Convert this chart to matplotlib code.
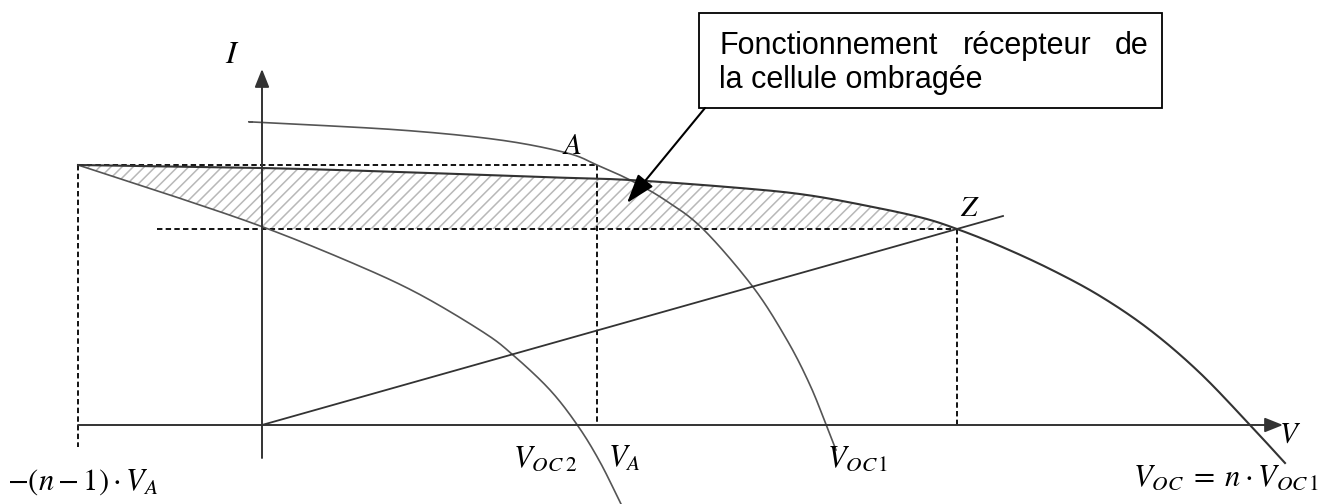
import matplotlib.pyplot as plt
import numpy as np

plt.rcParams['mathtext.fontset'] = 'stix'
plt.rcParams['font.family'] = ['Liberation Sans', 'DejaVu Sans']
plt.rcParams['hatch.linewidth'] = 1.1

# I(V) of the unshaded cell
cell_v = [-0.10, 0.00, 1.38, 2.38, 3.05, 3.35, 3.68, 4.03, 4.41, 4.91, 5.25, 5.48, 5.65, 5.74]
cell_i = [3.03, 3.025, 2.95, 2.85, 2.72, 2.60, 2.45, 2.25, 1.96, 1.38, 0.85, 0.40, -0.02, -0.25]

# shaded cell, reversed (receiver operation)
shaded_v = [-1.84, -0.92, 0.01, 0.88, 1.55, 2.21, 2.51, 2.88, 3.16, 3.38, 3.59]
shaded_i = [2.60, 2.30, 1.98, 1.63, 1.32, 0.93, 0.70, 0.35, -0.01, -0.37, -0.79]

# whole string of n cells
string_v = [-1.84, 0.00, 1.38, 2.78, 3.68, 4.78, 5.45, 6.11, 6.61, 6.95,
            7.38, 7.88, 8.38, 8.88, 9.38, 9.88, 10.23]
string_i = [2.60, 2.57, 2.53, 2.48, 2.45, 2.37, 2.30, 2.18, 2.07, 1.96,
            1.79, 1.56, 1.29, 0.95, 0.52, 0.00, -0.38]

# load line through the origin
load_v = [0.0, 7.41]
load_i = [0.0, 2.09]

v_a, i_a = 3.35, 2.60
v_z, i_z = 6.95, 1.96
v_neg = -1.84


def smooth(xs, ys, n=24):
    # Catmull-Rom through the given points
    p = np.column_stack([xs, ys]).astype(float)
    p = np.vstack([2 * p[0] - p[1], p, 2 * p[-1] - p[-2]])
    t = np.linspace(0, 1, n, endpoint=False)[:, None]
    out = []
    for k in range(1, len(p) - 2):
        p0, p1, p2, p3 = p[k - 1], p[k], p[k + 1], p[k + 2]
        out.append(0.5 * (2 * p1 + (p2 - p0) * t
                          + (2 * p0 - 5 * p1 + 4 * p2 - p3) * t ** 2
                          + (3 * p1 - p0 - 3 * p2 + p3) * t ** 3))
    out.append(p[-2][None])
    out = np.vstack(out)
    return out[:, 0], out[:, 1]


fig = plt.figure(figsize=(13.21, 5.04), dpi=100)
ax = fig.add_axes([0, 0, 1, 1])
ax.set_xlim(-2.62, 10.59)
ax.set_ylim(-0.79, 4.25)
ax.axis('off')

cv, ci = smooth(cell_v, cell_i)
sv, si = smooth(shaded_v, shaded_i)
tv, ti = smooth(string_v, string_i)

# hatched area: power dissipated in the shaded cell
vv = np.linspace(v_neg, v_z, 500)
top = np.interp(vv, tv, ti)
bottom = np.maximum(np.interp(vv, sv, si), i_z)
ax.fill_between(vv, bottom, top, facecolor='none', edgecolor='#b8b8b8',
                linewidth=0, hatch='///', zorder=1)

dash = dict(color='black', lw=1.3, linestyle=(0, (3.0, 1.8)), zorder=2)
ax.plot([v_neg, v_a], [i_a, i_a], **dash)
ax.plot([v_neg, v_neg], [i_a, -0.22], **dash)
ax.plot([v_a, v_a], [i_a, 0], **dash)
ax.plot([-1.05, v_z], [i_z, i_z], **dash)
ax.plot([v_z, v_z], [i_z, 0], **dash)

ax.plot(cv, ci, color='#555555', lw=1.2, zorder=3)
ax.plot(sv, si, color='#555555', lw=1.2, zorder=3)
ax.plot(tv, ti, color='#333333', lw=1.5, zorder=3)
ax.plot(load_v, load_i, color='#333333', lw=1.3, zorder=3)

# axes
arrow = dict(arrowstyle='-|>,head_length=0.55,head_width=0.22', mutation_scale=20,
             color='#333333', lw=1.4, shrinkA=0, shrinkB=0)
ax.annotate('', xy=(10.21, 0), xytext=(v_neg, 0), arrowprops=arrow, zorder=4)
ax.annotate('', xy=(0, 3.56), xytext=(0, -0.33), arrowprops=arrow, zorder=4)

# labels
ax.text(-0.30, 3.70, r'$I$', fontsize=23, ha='center', va='center')
ax.text(3.10, 2.79, r'$A$', fontsize=21, ha='center', va='center')
ax.text(7.08, 2.17, r'$Z$', fontsize=21, ha='center', va='center')
ax.text(10.28, -0.09, r'$V$', fontsize=21, ha='center', va='center')
ax.text(-2.55, -0.65, r'$-\left(n-1\right)\cdot V_A$', fontsize=22, va='baseline')
ax.text(2.51, -0.42, r'$V_{OC\;2}$', fontsize=22, va='baseline')
ax.text(3.46, -0.42, r'$V_A$', fontsize=22, va='baseline')
ax.text(5.65, -0.42, r'$V_{OC\,1}$', fontsize=22, va='baseline')
ax.text(8.71, -0.61, r'$V_{OC}\;=\;n\cdot V_{OC\,1}$', fontsize=22, va='baseline')

# annotation box
ax.add_patch(plt.Rectangle((4.37, 3.17), 9.00 - 4.37, 4.12 - 3.17, facecolor='white',
                           edgecolor='black', lw=1.3, zorder=5))
ax.text(4.57, 3.71, 'Fonctionnement', fontsize=22, va='baseline', zorder=6)
ax.text(7.01, 3.71, 'récepteur', fontsize=22, va='baseline', zorder=6)
ax.text(8.87, 3.71, 'de', fontsize=22, va='baseline', ha='right', zorder=6)
ax.text(4.57, 3.37, 'la cellule ombragée', fontsize=22, va='baseline', zorder=6)
ax.annotate('', xy=(3.65, 2.22), xytext=(4.43, 3.17),
            arrowprops=dict(arrowstyle='-|>,head_length=0.9,head_width=0.3',
                            mutation_scale=20, color='black', lw=1.5,
                            shrinkA=0, shrinkB=0), zorder=6)

fig.savefig('out.png', dpi=100)
